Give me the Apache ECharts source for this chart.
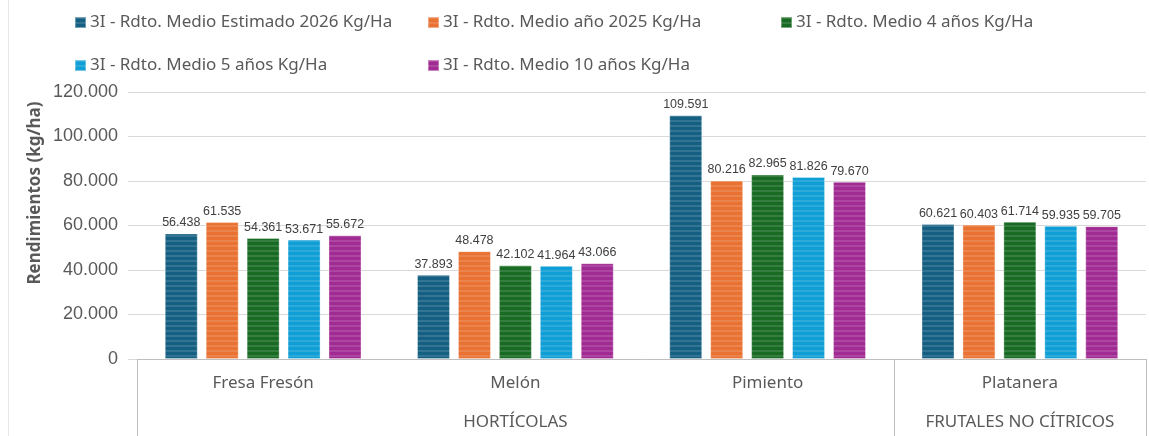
<!DOCTYPE html>
<html>
<head>
<meta charset="utf-8">
<script src="https://cdn.jsdelivr.net/npm/echarts@6/dist/echarts.min.js"></script>
<style>
  html, body { margin: 0; padding: 0; background: #fff; }
  #chart { width: 1149px; height: 436px; }
</style>
</head>
<body>
<div id="chart"></div>
<script>
// datos
const categorias = ["Fresa Fresón", "Melón", "Pimiento", "Platanera"]
const grupos = ["", "HORTÍCOLAS", "", "FRUTALES NO CÍTRICOS"]
const nombres = [
  "3I - Rdto. Medio Estimado 2026 Kg/Ha",
  "3I - Rdto. Medio año 2025 Kg/Ha",
  "3I - Rdto. Medio 4 años Kg/Ha",
  "3I - Rdto. Medio 5 años Kg/Ha",
  "3I - Rdto. Medio 10 años Kg/Ha",
]
const estimado2026 = [56438, 37893, 109591, 60621]
const anio2025 = [61535, 48478, 80216, 60403]
const medio4 = [54361, 42102, 82965, 61714]
const medio5 = [53671, 41964, 81826, 59935]
const medio10 = [55672, 43066, 79670, 59705]
const ticksY = [0, 20000, 40000, 60000, 80000, 100000, 120000]

const colores = ["#156082", "#E97132", "#196B24", "#0F9ED5", "#A02B93"]
const valores = [estimado2026, anio2025, medio4, medio5, medio10]

// rayas horizontales como en excel
function rayas(color) {
  const c = document.createElement("canvas")
  c.width = 4
  c.height = 5
  const ctx = c.getContext("2d")
  ctx.fillStyle = color
  ctx.fillRect(0, 0, 4, 5)
  ctx.fillStyle = "rgba(255,255,255,0.13)"
  ctx.fillRect(0, 0, 4, 2)
  return { image: c, repeat: "repeat" }
}

const miles = (v) => {
  if (v === 0) return "0"
  return String(v).replace(/\B(?=(\d{3})+(?!\d))/g, ".")
}

const txtFont = "Noto Sans"
const numFont = "Liberation Sans"

const legendPos = [
  [74, 14], [427, 14], [780, 14],
  [74, 57], [427, 57],
]

const myChart = echarts.init(document.getElementById("chart"))
myChart.setOption({
  animation: false,
  grid: { left: 137, right: 3, top: 92, bottom: 77 },
  legend: nombres.map((n, i) => ({
    data: [n],
    left: legendPos[i][0],
    top: legendPos[i][1],
    padding: 0,
    itemWidth: 11,
    itemHeight: 11,
    itemGap: 4,
    icon: "rect",
    textStyle: { fontFamily: txtFont, fontSize: 17, color: "#595959", padding: [0, 0, 0, -1] },
  })),
  graphic: [
    {
      type: "line",
      shape: { x1: 8.5, y1: 0, x2: 8.5, y2: 436 },
      style: { stroke: "#e6e6e6", lineWidth: 1 },
    },
    {
      type: "text",
      x: 35,
      y: 193,
      rotation: Math.PI / 2,
      style: {
        text: "Rendimientos (kg/ha)",
        fontFamily: txtFont,
        fontSize: 17,
        fontWeight: "bold",
        fill: "#595959",
        textAlign: "center",
        textVerticalAlign: "middle",
      },
    },
  ],
  xAxis: [
    {
      type: "category",
      data: categorias,
      axisLine: { lineStyle: { color: "#bfbfbf" } },
      axisTick: {
        show: true,
        length: 80,
        interval: (i) => i === 0 || i === 3,
        lineStyle: { color: "#bfbfbf" },
      },
      axisLabel: {
        interval: 0,
        margin: 16,
        fontFamily: txtFont,
        fontSize: 17,
        color: "#595959",
      },
    },
    {
      type: "category",
      data: grupos,
      position: "bottom",
      axisLine: { show: false },
      axisTick: { show: false },
      axisLabel: {
        interval: 0,
        margin: 55,
        fontFamily: txtFont,
        fontSize: 17,
        color: "#595959",
      },
    },
  ],
  yAxis: {
    type: "value",
    min: ticksY[0],
    max: ticksY[ticksY.length - 1],
    interval: 20000,
    axisLine: { show: false },
    axisTick: { show: true, length: 9, lineStyle: { color: "#d9d9d9" } },
    splitLine: { lineStyle: { color: "#d9d9d9" } },
    axisLabel: {
      margin: 19,
      formatter: miles,
      fontFamily: numFont,
      fontSize: 18,
      color: "#595959",
    },
  },
  series: nombres.map((n, i) => ({
    name: n,
    type: "bar",
    data: valores[i],
    barGap: "24%",
    barCategoryGap: "22%",
    itemStyle: {
      color: rayas(colores[i]),
      borderColor: "rgba(255,255,255,0.35)",
      borderWidth: 1,
    },
    label: {
      show: true,
      position: "top",
      distance: 4,
      formatter: (p) => miles(p.value),
      fontFamily: numFont,
      fontSize: 12.5,
      color: "#404040",
    },
  })),
})
</script>
</body>
</html>
